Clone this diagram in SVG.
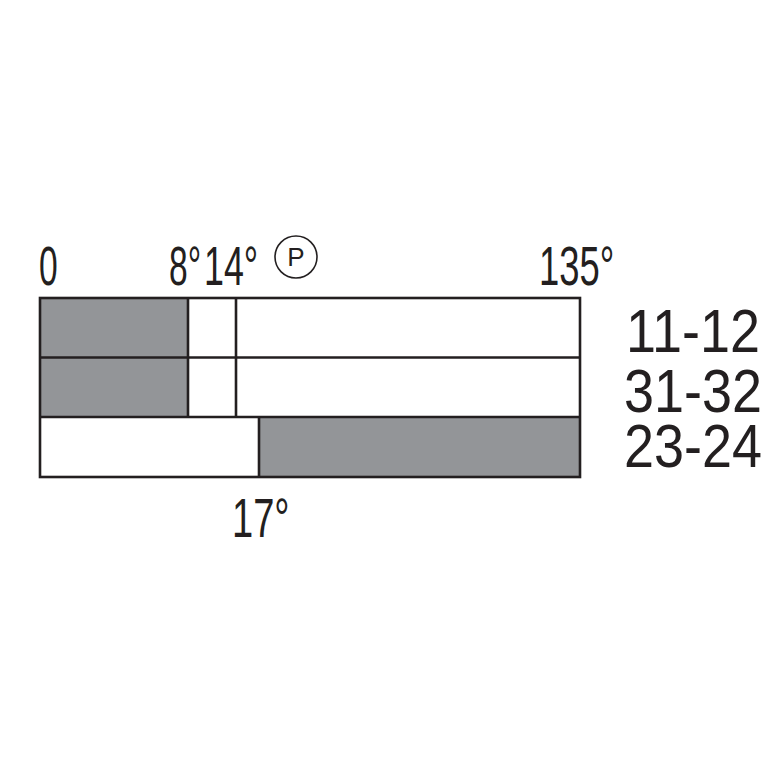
<svg xmlns="http://www.w3.org/2000/svg" width="767" height="767" viewBox="0 0 767 767">
<style>
.t{font-family:"Liberation Sans",Arial,sans-serif;fill:#231f20}
.top{font-size:56px}
.lab{font-size:62px}
.ln{stroke:#231f20;stroke-width:2.6;fill:none}
.g{fill:#939598}
</style>
<rect width="767" height="767" fill="#fff"/>
<g id="fills">
<rect class="g" x="40" y="298" width="148" height="119"/>
<rect class="g" x="259" y="417" width="321" height="60"/>
</g>
<g id="grid">
<rect class="ln" x="40" y="298" width="540" height="179"/>
<line class="ln" x1="40" y1="357.5" x2="580" y2="357.5"/>
<line class="ln" x1="40" y1="417" x2="580" y2="417"/>
<line class="ln" x1="188" y1="298" x2="188" y2="417"/>
<line class="ln" x1="236" y1="298" x2="236" y2="417"/>
<line class="ln" x1="259" y1="417" x2="259" y2="477"/>
</g>
<g id="top-labels">
<text class="t top" transform="translate(39,285) scale(0.6,1)">0</text>
<text class="t top" transform="translate(169,285) scale(0.6,1)">8°</text>
<text class="t top" transform="translate(204,285) scale(0.64,1)">14°</text>
<text class="t top" transform="translate(539,285) scale(0.65,1)">135°</text>
<text class="t top" transform="translate(232,537) scale(0.68,1)">17°</text>
</g>
<g id="p-mark">
<circle cx="296" cy="257" r="21" fill="none" stroke="#231f20" stroke-width="1.6"/>
<text class="t" x="296" y="266" font-size="26" text-anchor="middle">P</text>
</g>
<g id="row-labels">
<text class="t lab" transform="translate(626,352) scale(0.87,1)">11-12</text>
<text class="t lab" transform="translate(624,412) scale(0.87,1)">31-32</text>
<text class="t lab" transform="translate(624,467) scale(0.87,1)">23-24</text>
</g>
</svg>
